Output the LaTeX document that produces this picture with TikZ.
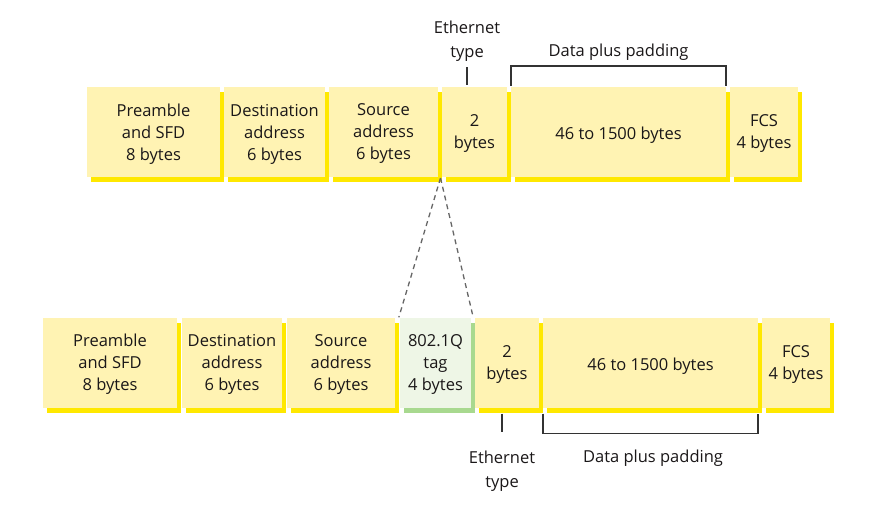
\documentclass[tikz,border=0pt]{standalone}
\usepackage{fontspec}
\setmainfont{Open Sans}
\usetikzlibrary{shadows}
\definecolor{ylfill}{HTML}{FFF3B3}
\definecolor{ylshadow}{HTML}{FFE800}
\definecolor{grfill}{HTML}{EEF6E6}
\definecolor{grshadow}{HTML}{A8D98F}
\definecolor{linegray}{HTML}{333333}
\definecolor{dashgray}{HTML}{666666}
\definecolor{txt}{HTML}{1A1718}
\tikzset{
  field/.style={fill=ylfill, draw=none, inner sep=0pt, minimum height=90pt,
    align=center, text depth=0pt, font=\fontsize{16.5}{22}\selectfont, text=txt,
    general shadow={fill=ylshadow, shadow xshift=4pt, shadow yshift=-5pt}},
  tagfield/.style={field, fill=grfill,
    general shadow={fill=grshadow, shadow xshift=4pt, shadow yshift=-5pt}},
  lbl/.style={align=center, inner sep=0pt, text=txt, font=\fontsize{16.5}{24}\selectfont},
  bracket/.style={draw=linegray, line width=1.5pt},
  zoomline/.style={draw=dashgray, line width=1.3pt, dash pattern=on 5pt off 4pt}
}
\begin{document}
\begin{tikzpicture}[x=1pt,y=-1pt]
\useasboundingbox (0,0) rectangle (874,504);
% top frame
\node[field, minimum width=133pt] (p1) at (153.5,132) {Preamble\\and SFD\\8 bytes};
\node[field, minimum width=101pt] (d1) at (274.5,132) {Destination\\address\\6 bytes};
\node[field, minimum width=109pt] (s1) at (383.5,132) {Source\\address\\6 bytes};
\node[field, minimum width=65pt] (t1) at (474.5,132) {2\\bytes};
\node[field, minimum width=215pt] (da1) at (618.5,132) {\raisebox{-2.5pt}{46 to 1500 bytes}};
\node[field, minimum width=68pt] (f1) at (764,132) {FCS\\4 bytes};
% bottom frame
\node[field, minimum width=134pt] (p2) at (110,362.5) {Preamble\\and SFD\\8 bytes};
\node[field, minimum width=100pt] (d2) at (232,362.5) {Destination\\address\\6 bytes};
\node[field, minimum width=108pt] (s2) at (341,362.5) {Source\\address\\6 bytes};
\node[tagfield, minimum width=71pt] (q2) at (435.5,362.5) {802.1Q\\tag\\4 bytes};
\node[field, minimum width=64pt] (t2) at (507,362.5) {2\\bytes};
\node[field, minimum width=215pt] (da2) at (650.5,362.5) {\raisebox{-2.5pt}{46 to 1500 bytes}};
\node[field, minimum width=68pt] (f2) at (796,362.5) {FCS\\4 bytes};
% top labels
\node[lbl] (et1) at (467,41) {Ethernet\\type};
\node[lbl] (dp1) at (618.5,52) {Data plus padding};
\coordinate (tk1) at (467,67);
\draw[bracket] (tk1) -- ([yshift=2pt]t1.north -| tk1);
\draw[bracket] ([yshift=1pt]da1.north west) -- ++(0,-20) -| ([yshift=1pt]da1.north east);
% bottom labels
\node[lbl] (et2) at (502,471) {Ethernet\\type};
\node[lbl] (dp2) at (653,458) {Data plus padding};
\coordinate (tk2) at (502,432);
\draw[bracket] ([yshift=-6pt]t2.south -| tk2) -- (tk2);
\draw[bracket] ([yshift=-6pt]da2.south west) -- ++(0,20) -| ([yshift=-6pt]da2.south east);
% zoom lines
\coordinate (apex) at (440.5,178);
\draw[zoomline] (apex) -- ([xshift=-1pt]q2.north west);
\draw[zoomline] (apex) -- ([xshift=2pt]q2.north east);
\end{tikzpicture}
\end{document}
